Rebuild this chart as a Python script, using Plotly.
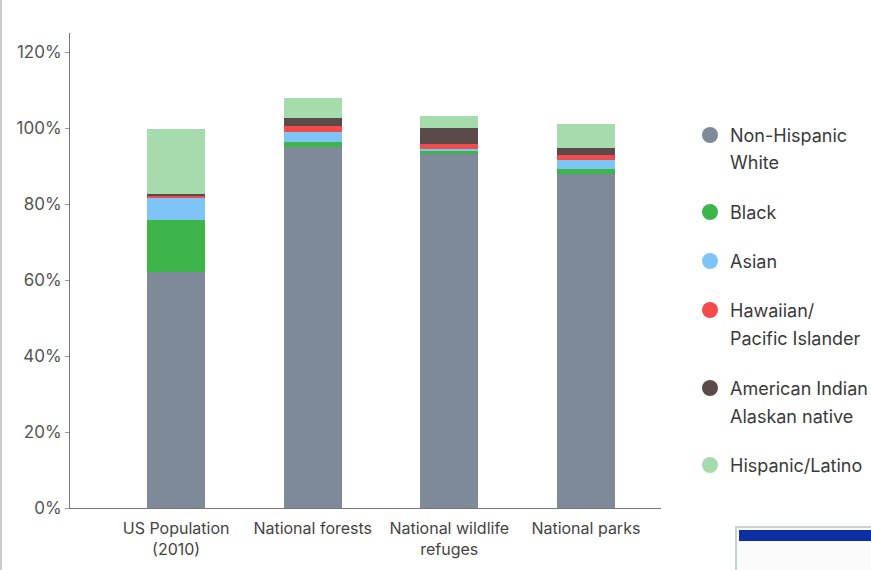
import plotly.graph_objects as go

# Visitor demographics vs. US population, stacked shares (%)
categories = ["US Population<br>(2010)", "National forests", "National wildlife<br>refuges", "National parks"]
white = [62.1, 95.0, 93.2, 87.9]
black = [13.7, 1.3, 0.8, 1.3]
asian = [6.0, 2.6, 0.5, 2.4]
hawaiian = [0.2, 1.6, 1.3, 1.3]
am_indian = [0.6, 2.1, 4.2, 1.8]
hispanic = [17.1, 5.3, 3.2, 6.3]

series_names = [
    ["Non-Hispanic", "White"],
    ["Black"],
    ["Asian"],
    ["Hawaiian/", "Pacific Islander"],
    ["American Indian", "Alaskan native"],
    ["Hispanic/Latino"],
]
series_values = [white, black, asian, hawaiian, am_indian, hispanic]
series_colors = ["#7e8a98", "#3db54a", "#7ec4f6", "#f24b4b", "#5a4b4a", "#a5dbad"]

y_ticks = [0, 20, 40, 60, 80, 100, 120]
y_tick_text = ["0%", "20%", "40%", "60%", "80%", "100%", "120%"]

W, H = 871, 570
ML, MR, MT, MB = 70, W - 661, 33, H - 508

xpos = list(range(len(categories)))
fig = go.Figure()

for lines, vals, color in zip(series_names, series_values, series_colors):
    fig.add_trace(go.Bar(
        x=xpos, y=vals, name=" ".join(lines), width=0.425,
        marker=dict(color=color, line=dict(width=0)),
        showlegend=False,
    ))

def px_x(p):
    return (p - ML) / (W - ML - MR)

def px_y(p):
    return (H - MB - p) / (H - MT - MB)

shapes = [
    # thin frame line on the left edge
    dict(type="line", xref="paper", yref="paper",
         x0=px_x(1), x1=px_x(1), y0=px_y(0), y1=px_y(H),
         line=dict(color="#b8b8b8", width=1.5)),
    # small window in the bottom-right corner
    dict(type="rect", xref="paper", yref="paper",
         x0=px_x(736), x1=px_x(880), y0=px_y(580), y1=px_y(527),
         fillcolor="#fbfbfb", line=dict(color="#c9d3d6", width=2)),
    dict(type="rect", xref="paper", yref="paper",
         x0=px_x(739), x1=px_x(880), y0=px_y(541), y1=px_y(530),
         fillcolor="#0d2fa3", line=dict(width=0)),
]

# legend: round swatch + one annotation per text line
annotations = []
legend_rows = [135, 212, 261, 310, 388, 465]
line_step = 28
for lines, color, row in zip(series_names, series_colors, legend_rows):
    cx, cy = px_x(710), px_y(row)
    shapes.append(dict(
        type="circle", xref="paper", yref="paper",
        xsizemode="pixel", ysizemode="pixel",
        xanchor=cx, yanchor=cy, x0=-8, x1=8, y0=-8, y1=8,
        fillcolor=color, line=dict(width=0),
    ))
    for k, txt in enumerate(lines):
        annotations.append(dict(
            xref="paper", yref="paper",
            x=px_x(728), y=px_y(row + k * line_step),
            xanchor="left", yanchor="middle",
            text=txt, showarrow=False,
            font=dict(size=18, color="#3a3a3a"),
        ))

fig.update_layout(
    width=W, height=H,
    margin=dict(l=ML, r=MR, t=MT, b=MB),
    barmode="stack",
    bargap=0,
    plot_bgcolor="white",
    paper_bgcolor="white",
    showlegend=False,
    font=dict(family="Inter, Roboto, sans-serif", color="#444"),
    xaxis=dict(
        range=[-0.777, 3.55],
        tickvals=xpos, ticktext=categories,
        showgrid=False, zeroline=False,
        showline=True, linecolor="#777", linewidth=1,
        ticks="", tickfont=dict(size=16, color="#444"),
        ticklabelstandoff=6,
        fixedrange=True,
    ),
    yaxis=dict(
        range=[0, 125],
        tickvals=y_ticks, ticktext=y_tick_text,
        showgrid=False, zeroline=False,
        showline=True, linecolor="#777", linewidth=1,
        ticks="outside", ticklen=4, tickcolor="#999",
        tickfont=dict(size=17, color="#555"),
        fixedrange=True,
    ),
    shapes=shapes,
    annotations=annotations,
)

fig.write_html("out.html")
